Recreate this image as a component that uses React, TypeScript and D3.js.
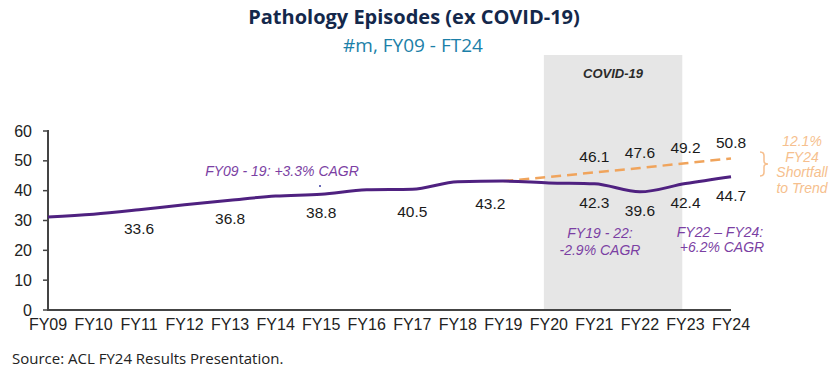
import React from "react";
import * as d3 from "d3";

const years = ["FY09", "FY10", "FY11", "FY12", "FY13", "FY14", "FY15", "FY16", "FY17", "FY18", "FY19", "FY20", "FY21", "FY22", "FY23", "FY24"];
const actual = [31.2, 32.1, 33.6, 35.3, 36.8, 38.2, 38.8, 40.3, 40.5, 43.0, 43.2, 42.6, 42.3, 39.6, 42.4, 44.7];
const trendYears = ["FY19", "FY20", "FY21", "FY22", "FY23", "FY24"];
const trend = [43.2, 44.6, 46.1, 47.6, 49.2, 50.8];
const actualLabelYears = ["FY11", "FY13", "FY15", "FY17", "FY19", "FY21", "FY22", "FY23", "FY24"];
const trendLabelYears = ["FY21", "FY22", "FY23", "FY24"];
const yTicks = [0, 10, 20, 30, 40, 50, 60];

const W = 837;
const H = 370;
const margin = { top: 131, right: 106, bottom: 60, left: 48 };

const purple = "#4f2180";
const annoPurple = "#7b3fa3";
const orange = "#f0a45c";
const lightOrange = "#f6bf8e";
const axisFont = "'Liberation Sans', Arial, sans-serif";

export default function App() {
  const x = d3.scalePoint<string>().domain(years).range([margin.left, W - margin.right]);
  const y = d3.scaleLinear().domain([0, 60]).range([H - margin.bottom, margin.top]);

  const line = d3
    .line<number>()
    .x((d, i) => x(years[i]) as number)
    .y((d) => y(d))
    .curve(d3.curveMonotoneX);

  const trendLine = d3
    .line<number>()
    .x((d, i) => x(trendYears[i]) as number)
    .y((d) => y(d));

  const valueOf = (yr: string) => actual[years.indexOf(yr)];
  const trendOf = (yr: string) => trend[trendYears.indexOf(yr)];
  const step = x.step();

  // covid shading spans FY20..FY23
  const bandX0 = (x("FY20") as number) - step * 0.11;
  const bandX1 = (x("FY23") as number) - step * 0.07;

  const nudge: Record<string, [number, number]> = { FY19: [-13, 4], FY17: [0, 4] };

  const braceX = 760;
  const braceTop = 152;
  const braceBot = 176;
  const braceMid = (braceTop + braceBot) / 2;

  return (
    <svg width={W} height={H} style={{ position: "absolute", left: 0, top: 0, background: "#fff" }}>
      {/* title */}
      <text x={414} y={24} textAnchor="middle" fontFamily="'Open Sans', sans-serif" fontWeight={700} fontSize={20} fill="#14284b">
        Pathology Episodes (ex COVID-19)
      </text>
      <text x={413} y={52} textAnchor="middle" fontFamily="'Open Sans', sans-serif" fontSize={19} fill="#1c7fa8">
        #m, FY09 - FT24
      </text>

      {/* covid band */}
      <rect x={bandX0} y={55} width={bandX1 - bandX0} height={y(0) - 55} fill="#e6e6e6" />
      <text x={(bandX0 + bandX1) / 2} y={78} textAnchor="middle" fontFamily={axisFont} fontWeight={700} fontStyle="italic" fontSize={13} fill="#2b2b2b">
        COVID-19
      </text>

      {/* y axis */}
      <line x1={margin.left} x2={margin.left} y1={y(60) - 1} y2={y(0)} stroke="#444" strokeWidth={2} />
      {yTicks.map((t) => (
        <g key={t}>
          <line x1={margin.left - 5} x2={margin.left} y1={y(t)} y2={y(t)} stroke="#444" strokeWidth={1.5} />
          <text x={32} y={y(t) + 5.5} textAnchor="end" fontFamily={axisFont} fontSize={16} fill="#222">
            {t}
          </text>
        </g>
      ))}

      {/* x axis */}
      <line x1={margin.left - 1} x2={x("FY24")} y1={y(0)} y2={y(0)} stroke="#444" strokeWidth={2} />
      {years.map((yr) => (
        <text key={yr} x={x(yr)} y={y(0) + 20} textAnchor="middle" fontFamily={axisFont} fontSize={16} fill="#222">
          {yr}
        </text>
      ))}

      {/* trend */}
      <path d={trendLine(trend) || ""} fill="none" stroke={orange} strokeWidth={2.5} strokeDasharray="10,6" />
      {/* actual */}
      <path d={line(actual) || ""} fill="none" stroke={purple} strokeWidth={3} />

      {actualLabelYears.map((yr) => {
        const v = valueOf(yr);
        const n = nudge[yr] || [0, 0];
        return (
          <text key={"a" + yr} x={(x(yr) as number) + n[0]} y={y(v) + 24 + n[1]} textAnchor="middle" fontFamily={axisFont} fontSize={15.5} fill="#1a1a1a">
            {d3.format(".1f")(v)}
          </text>
        );
      })}
      {trendLabelYears.map((yr) => {
        const v = trendOf(yr);
        return (
          <text key={"t" + yr} x={x(yr)} y={y(v) - 10} textAnchor="middle" fontFamily={axisFont} fontSize={15.5} fill="#1a1a1a">
            {d3.format(".1f")(v)}
          </text>
        );
      })}

      {/* annotations */}
      <text x={282} y={176} textAnchor="middle" fontFamily={axisFont} fontStyle="italic" fontSize={14} fill={annoPurple}>
        FY09 - 19: +3.3% CAGR
      </text>
      <circle cx={320} cy={186} r={1} fill="#3a3aa0" />
      <text textAnchor="middle" fontFamily={axisFont} fontStyle="italic" fontSize={14} fill={annoPurple}>
        <tspan x={600} y={238}>FY19 - 22:</tspan>
        <tspan x={600} y={255}>-2.9% CAGR</tspan>
      </text>
      <text textAnchor="middle" fontFamily={axisFont} fontStyle="italic" fontSize={14} fill={annoPurple}>
        <tspan x={720} y={237}>FY22 – FY24:</tspan>
        <tspan x={722} y={252}>+6.2% CAGR</tspan>
      </text>

      <path
        d={`M${braceX},${braceTop} Q${braceX + 4},${braceTop} ${braceX + 4},${braceTop + 4} L${braceX + 4},${braceMid - 3} Q${braceX + 4},${braceMid} ${braceX + 8},${braceMid} Q${braceX + 4},${braceMid} ${braceX + 4},${braceMid + 3} L${braceX + 4},${braceBot - 4} Q${braceX + 4},${braceBot} ${braceX},${braceBot}`}
        fill="none"
        stroke={lightOrange}
        strokeWidth={1.5}
      />
      <text textAnchor="middle" fontFamily={axisFont} fontStyle="italic" fontSize={14} fill={lightOrange}>
        <tspan x={802} y={146}>12.1%</tspan>
        <tspan x={802} y={162}>FY24</tspan>
        <tspan x={802} y={177}>Shortfall</tspan>
        <tspan x={802} y={193}>to Trend</tspan>
      </text>

      {/* source */}
      <text x={12} y={364} fontFamily="'Open Sans', sans-serif" fontSize={15} fill="#222">
        Source: ACL FY24 Results Presentation.
      </text>
    </svg>
  );
}
